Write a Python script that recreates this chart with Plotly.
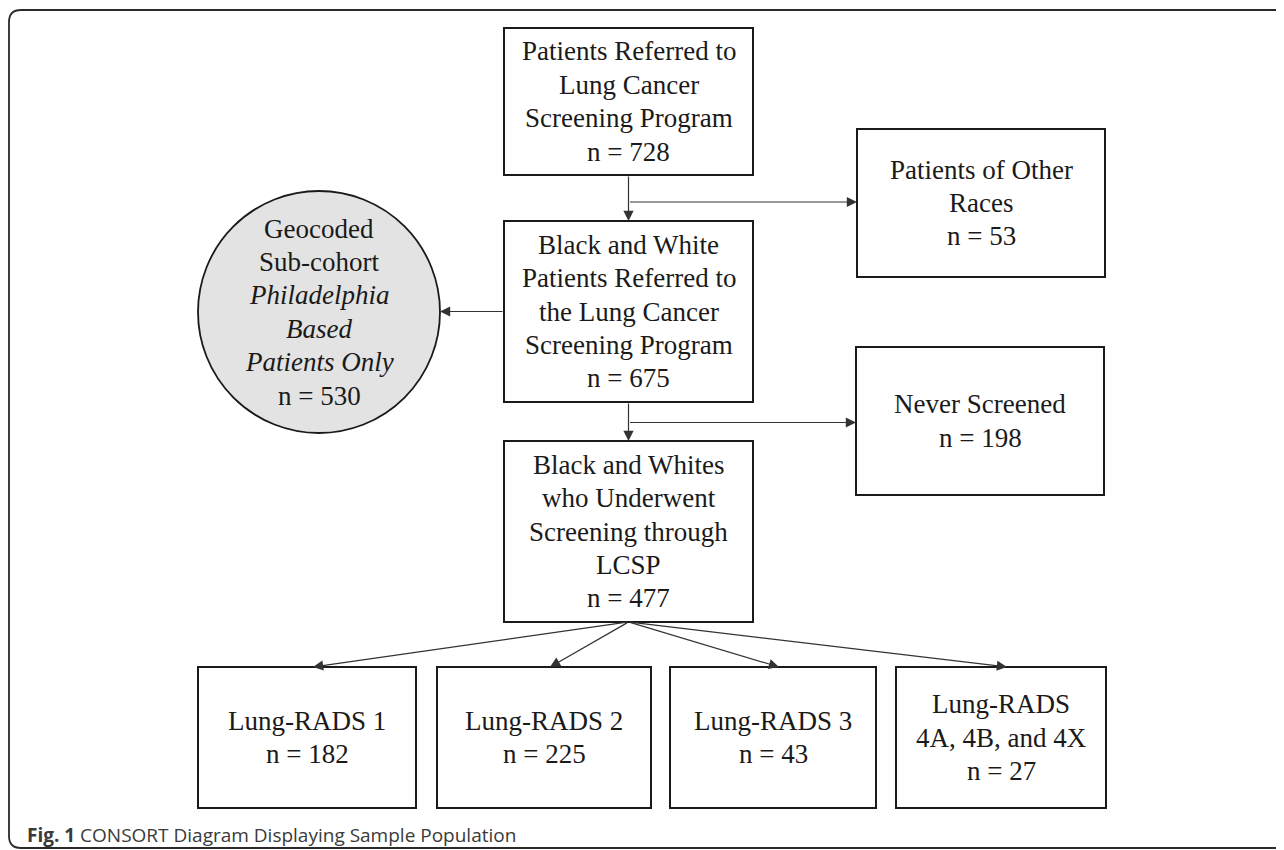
import plotly.graph_objects as go

# ---- data ----
node_titles = [
    "Patients Referred to<br>Lung Cancer<br>Screening Program",
    "Patients of Other<br>Races",
    "Black and White<br>Patients Referred to<br>the Lung Cancer<br>Screening Program",
    "Never Screened",
    "Black and Whites<br>who Underwent<br>Screening through<br>LCSP",
    "Lung-RADS 1",
    "Lung-RADS 2",
    "Lung-RADS 3",
    "Lung-RADS<br>4A, 4B, and 4X",
]
node_counts = [728, 53, 675, 198, 477, 182, 225, 43, 27]

circle_title = "Geocoded<br>Sub-cohort<br><i>Philadelphia</i><br><i>Based</i><br><i>Patients Only</i>"
circle_count = 530

caption_bold = "Fig. 1"
caption_text = "CONSORT Diagram Displaying Sample Population"

# ---- layout (pixel boxes: x0, x1, y0, y1) ----
boxes = [
    (504, 753, 28, 175),
    (857, 1105, 129, 277),
    (504, 753, 221, 402),
    (856, 1104, 347, 495),
    (504, 753, 441, 622),
    (198, 416, 667, 808),
    (437, 651, 667, 808),
    (670, 876, 667, 808),
    (896, 1106, 667, 808),
]
circle = (198, 440, 191, 433)

W, H = 1284, 850
OFF = 8  # page body margin of the HTML page
SERIF = "Liberation Serif"
LINE = 33.4
fig = go.Figure()

shapes = []
# outer rounded border (right edge runs off the canvas)
shapes.append(dict(type="path",
                   path="M 9,22 Q 9,10 21,10 L 1300,10 L 1300,848 L 21,848 Q 9,848 9,836 Z",
                   xref="x", yref="y", line=dict(color="#2a2a2a", width=1.8),
                   fillcolor="rgba(0,0,0,0)"))
for (x0, x1, y0, y1) in boxes:
    shapes.append(dict(type="rect", xref="x", yref="y", x0=x0, x1=x1, y0=y0, y1=y1,
                       line=dict(color="#1a1a1a", width=2), fillcolor="white"))
cx0, cx1, cy0, cy1 = circle
shapes.append(dict(type="circle", xref="x", yref="y", x0=cx0, x1=cx1, y0=cy0, y1=cy1,
                   line=dict(color="#1a1a1a", width=1.8), fillcolor="#e3e3e3"))

annotations = []

def text_block(xc, yc, text):
    lines = text.split("<br>")
    n = len(lines)
    for k, ln in enumerate(lines):
        annotations.append(dict(x=xc, y=yc + (k - (n - 1) / 2) * LINE, xref="x", yref="y",
                                text=ln, showarrow=False, align="center",
                                xanchor="center", yanchor="middle",
                                font=dict(family=SERIF, size=27, color="#1a1a1a")))

for (x0, x1, y0, y1), t, n in zip(boxes, node_titles, node_counts):
    text_block((x0 + x1) / 2, (y0 + y1) / 2, f"{t}<br>n = {n}")
text_block((cx0 + cx1) / 2, (cy0 + cy1) / 2, f"{circle_title}<br>n = {circle_count}")

# connectors
def arrow(x0, y0, x1, y1):
    annotations.append(dict(x=x1, y=y1, ax=x0, ay=y0, xref="x", yref="y",
                            axref="x", ayref="y", showarrow=True, text="",
                            arrowhead=2, arrowsize=1.7, arrowwidth=1.2,
                            arrowcolor="#333333"))

b = boxes
mid = (b[0][0] + b[0][1]) / 2
arrow(mid, b[0][3], mid, b[2][2])
arrow(mid, (b[0][3] + b[2][2]) / 2 + 4, b[1][0], (b[0][3] + b[2][2]) / 2 + 4)
arrow(mid, b[2][3], mid, b[4][2])
arrow(mid, (b[2][3] + b[4][2]) / 2 + 1, b[3][0], (b[2][3] + b[4][2]) / 2 + 1)
arrow(b[2][0], (b[2][2] + b[2][3]) / 2, cx1, (b[2][2] + b[2][3]) / 2)
for i in range(5, 9):
    tx = (b[i][0] + b[i][1]) / 2 + 6
    arrow(mid, b[4][3], tx, b[i][2])

# caption
annotations.append(dict(x=25, y=835, xref="x", yref="y", showarrow=False,
                        xanchor="left", yanchor="middle", align="left",
                        text=f"<b>{caption_bold}</b> {caption_text}",
                        font=dict(family="Open Sans", size=19, color="#3a3a3a")))

fig.update_layout(
    width=W - OFF, height=H - OFF, margin=dict(l=0, r=0, t=0, b=0),
    paper_bgcolor="white", plot_bgcolor="white",
    xaxis=dict(range=[OFF, W], visible=False, fixedrange=True),
    yaxis=dict(range=[H, OFF], visible=False, fixedrange=True),
    shapes=shapes, annotations=annotations, showlegend=False,
)
fig.write_html("out.html")
